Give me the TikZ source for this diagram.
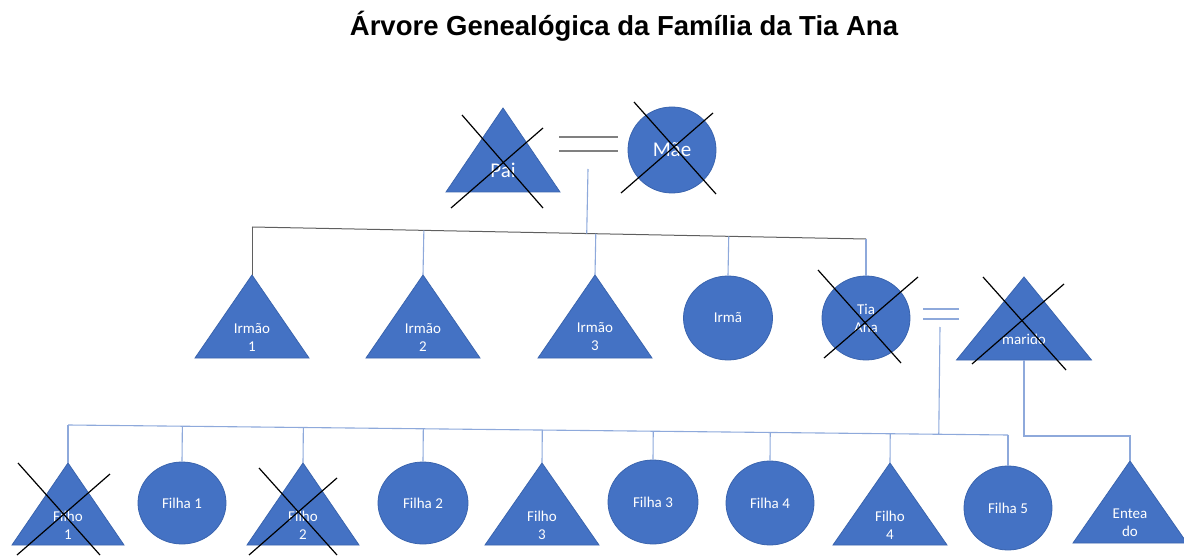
\documentclass[tikz,border=0pt]{standalone}
\usepackage{fontspec}
\setmainfont{Carlito}
\newfontfamily\titlefont{Liberation Sans}
\usetikzlibrary{shapes.geometric,calc}
\definecolor{nodeblue}{HTML}{4472C4}
\definecolor{nodeedge}{HTML}{3A64AE}
\definecolor{linkblue}{HTML}{8EA9DB}
\definecolor{darkline}{HTML}{5F5F5F}
\definecolor{graydouble}{HTML}{808080}
\tikzset{
  person/.style={fill=nodeblue, draw=nodeedge, line width=0.8},
  circ/.style={person, ellipse, inner sep=0, text=white, align=center,
    font=\fontsize{15}{18}\selectfont},
  tlabel/.style={text=white, align=center, inner sep=0,
    font=\fontsize{15}{18}\selectfont},
  bigtext/.style={font=\fontsize{21}{24}\selectfont},
  link/.style={linkblue, line width=1.1},
  sibline/.style={darkline, line width=1},
  crossline/.style={black, line width=1.2},
  marriage/.style={graydouble, line width=1.4},
  marriageblue/.style={linkblue, line width=1.6},
}
% name, apex x, apex y, half width, height, text
\newcommand{\TriPerson}[6]{%
  \coordinate (#1-top) at (#2,#3);
  \coordinate (#1-base) at ($(#1-top)+(0,#5)$);
  \path[person] (#1-top) -- ++({-#4},#5) -- ++({2*#4},0) -- cycle;
  \node[tlabel] (#1) at ($(#1-top)+(0,62)$) {#6};
}
\begin{document}
\begin{tikzpicture}[x=1pt,y=-1pt]
\useasboundingbox (0,0) rectangle (1184,556);

% title
\node[anchor=base, inner sep=0, font={\titlefont\bfseries\fontsize{27.5}{33}\selectfont}] (title) at (624,36) {Árvore Genealógica da Família da Tia Ana};

% ---------- generation 1 ----------
\TriPerson{pai}{503}{108}{57}{84}{\fontsize{21}{24}\selectfont Pai}
\node[circ, bigtext, minimum width=88, minimum height=86] (mae) at (672,150) {Mãe};
\draw[marriage] (559,137) -- (618,137);
\draw[marriage] (559,151) -- (618,151);
\draw[crossline] (462,115) -- (543,208);
\draw[crossline] (451,208) -- (543,128);
\draw[crossline] (634,102) -- (716,194);
\draw[crossline] (621,193) -- (713,113);

% ---------- generation 2 ----------
\TriPerson{irmao1}{252}{275}{57}{83}{Irmão\\1}
\TriPerson{irmao2}{423}{275}{57}{83}{Irmão\\2}
\TriPerson{irmao3}{595}{275}{57}{83}{Irmão\\3}
\node[circ, minimum width=89, minimum height=84] (irma) at (728,318) {Irmã};
\node[circ, minimum width=88, minimum height=84] (tia) at (866,318) {Tia\\Ana};
\TriPerson{marido}{1024}{277}{67.5}{83}{marido}
\draw[crossline] (818,270) -- (901,363);
\draw[crossline] (824,358) -- (918,277);
\draw[crossline] (983,277) -- (1066,370);
\draw[crossline] (972,364) -- (1064,284);
\draw[marriageblue] (923,309) -- (959,309);
\draw[marriageblue] (923,319) -- (959,319);

% sibling line
\coordinate (sibL) at (252,227);
\coordinate (sibR) at (866,239);
\coordinate (parentsDrop) at (588,169);
\draw[sibline] (sibL) -- (sibR);
\draw[link] (parentsDrop) -- ($(sibL)!(parentsDrop)!(sibR)$);
\draw[sibline] (sibL) -- (irmao1-top);
\draw[link] ($(sibL)!(irmao2-top)!(sibR)$) -- (irmao2-top);
\draw[link] ($(sibL)!(irmao3-top)!(sibR)$) -- (irmao3-top);
\draw[link] ($(sibL)!(irma.north)!(sibR)$) -- (irma.north);
\draw[link] (sibR) -- (tia.north);

% ---------- generation 3 ----------
\TriPerson{filho1}{68}{463}{56}{82}{Filho\\1}
\node[circ, minimum width=88, minimum height=82] (filha1) at (182,503) {Filha 1};
\TriPerson{filho2}{303}{463}{56}{82}{Filho\\2}
\node[circ, minimum width=90, minimum height=82] (filha2) at (423,503) {Filha 2};
\TriPerson{filho3}{542}{463}{57}{82}{Filho\\3}
\node[circ, minimum width=90, minimum height=84] (filha3) at (653,502) {Filha 3};
\node[circ, minimum width=88, minimum height=84] (filha4) at (770,503) {Filha 4};
\TriPerson{filho4}{890}{463}{57}{82}{Filho\\4}
\node[circ, minimum width=88, minimum height=84] (filha5) at (1008,508) {Filha 5};
\TriPerson{enteado}{1130}{461}{57}{82}{Entea\\do}
\draw[crossline] (18,463) -- (100,555);
\draw[crossline] (17,555) -- (110,474);
\draw[crossline] (259,468) -- (337,555);
\draw[crossline] (249,555) -- (337,478);

% children line
\coordinate (kidL) at (68,425);
\coordinate (kidR) at (1008,435);
\coordinate (coupleDrop) at (940,327);
\draw[link] (kidL) -- (kidR);
\draw[link] (coupleDrop) -- ($(kidL)!(coupleDrop)!(kidR)$);
\draw[link] (kidL) -- (filho1-top);
\draw[link] ($(kidL)!(filha1.north)!(kidR)$) -- (filha1.north);
\draw[link] ($(kidL)!(filho2-top)!(kidR)$) -- (filho2-top);
\draw[link] ($(kidL)!(filha2.north)!(kidR)$) -- (filha2.north);
\draw[link] ($(kidL)!(filho3-top)!(kidR)$) -- (filho3-top);
\draw[link] ($(kidL)!(filha3.north)!(kidR)$) -- (filha3.north);
\draw[link] ($(kidL)!(filha4.north)!(kidR)$) -- (filha4.north);
\draw[link] ($(kidL)!(filho4-top)!(kidR)$) -- (filho4-top);
\draw[link] (kidR) -- (filha5.north);
\draw[link] (marido-base) |- ($(enteado-top)+(0,-25)$) -- (enteado-top);
\end{tikzpicture}
\end{document}
